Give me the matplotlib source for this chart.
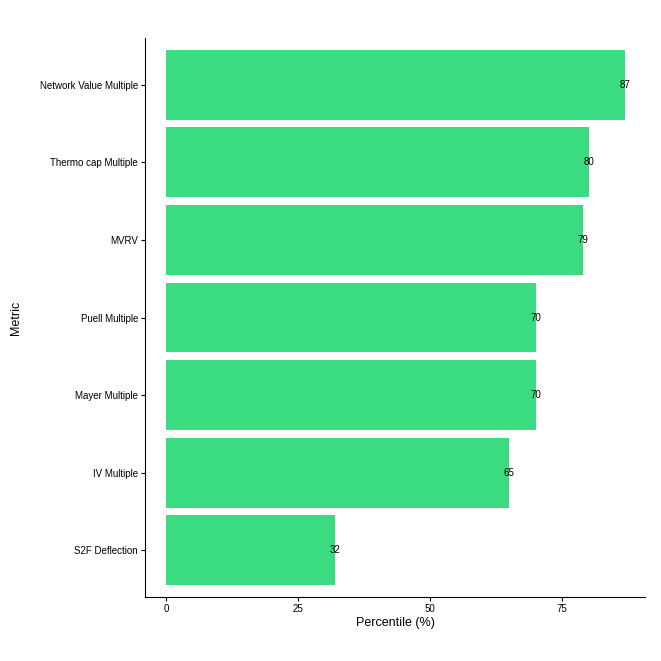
import matplotlib
matplotlib.use("Agg")
import matplotlib.pyplot as plt
plt.rcParams["font.family"] = "Liberation Sans"

metrics = ["S2F Deflection", "IV Multiple", "Mayer Multiple", "Puell Multiple",
           "MVRV", "Thermo cap Multiple", "Network Value Multiple"]
values = [32, 65, 70, 70, 79, 80, 87]
xticks = [0, 25, 50, 75]

fig = plt.figure(figsize=(6.61, 6.61), dpi=100)
ax = fig.add_axes([145/661, 1-597/661, 500/661, 559/661])
ypos = list(range(1, len(metrics)+1))
ax.barh(ypos, values, height=0.9, color="#3BDB82")
for y, v in zip(ypos, values):
    ax.text(v, y, str(v), ha="center", va="center", fontsize=7, color="black")
ax.set_xlim(-4.0, 90.7)
ax.set_ylim(0.4, len(metrics)+0.6)
ax.set_yticks(ypos)
ax.set_yticklabels(metrics, fontsize=7, color="black")
ax.set_xticks(xticks)
ax.set_xticklabels([str(t) for t in xticks], fontsize=7, color="black")
ax.set_xlabel("Percentile (%)", fontsize=9, labelpad=2)
ax.set_ylabel("Metric", fontsize=9)
ax.yaxis.set_label_coords(-0.245, 0.5)
for s in ["top", "right"]:
    ax.spines[s].set_visible(False)
ax.tick_params(length=3, width=0.8, pad=2)
fig.savefig("out.png", dpi=100)
